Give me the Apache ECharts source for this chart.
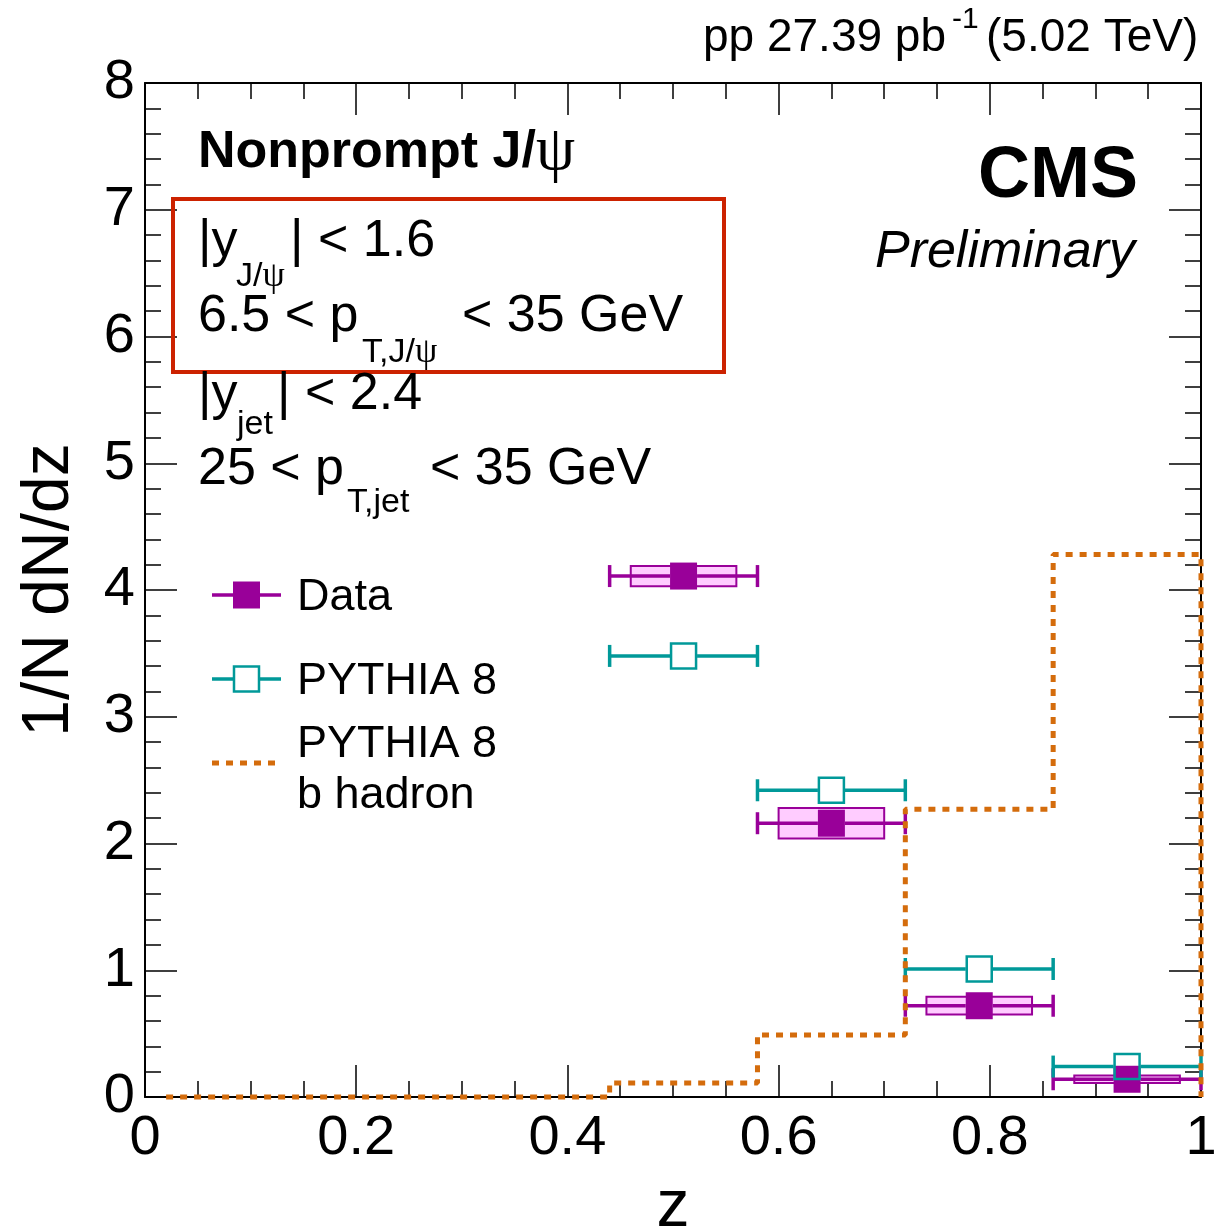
<!DOCTYPE html>
<html>
<head>
<meta charset="utf-8">
<script src="https://cdn.jsdelivr.net/npm/echarts@6/dist/echarts.min.js"></script>
<style>
html,body{margin:0;padding:0;background:#fff;}
#c{width:1214px;height:1229px;}
</style>
</head>
<body>
<div id="c"></div>
<script>
// ---- data ----
const binLow = [0.44, 0.58, 0.72, 0.86];
const binHigh = [0.58, 0.72, 0.86, 1.0];
const binCenter = [0.51, 0.65, 0.79, 0.93];
const dataValues = [4.11, 2.16, 0.72, 0.14];
const dataSyst = [0.08, 0.12, 0.07, 0.03];
const pythiaValues = [3.48, 2.42, 1.01, 0.24];
const bHadronEdges = [0.02, 0.44, 0.58, 0.72, 0.86, 1.0];
const bHadronValues = [0, 0.11, 0.49, 2.27, 4.28];
const sysHalfWidth = 0.05;
const xTickLabels = ['0', '0.2', '0.4', '0.6', '0.8', '1'];
const yTickLabels = ['0', '1', '2', '3', '4', '5', '6', '7', '8'];

// ---- styles ----
const FONT = 'Liberation Sans, Arial, Helvetica, sans-serif';
const SERIF = 'Liberation Serif, DejaVu Serif, serif';
const MAGENTA = '#990099';
const PINK = '#ffccff';
const TEAL = '#009999';
const ORANGE = '#d46c0c';
const RED = '#cc2200';
const MS = 27;

const chart = echarts.init(document.getElementById('c'), null, {renderer: 'canvas'});

const errData = (vals) => vals.map((v, i) => [binCenter[i], v, binLow[i], binHigh[i]]);

function errRender(color) {
  return function (params, api) {
    const c = api.coord([api.value(0), api.value(1)]);
    const l = api.coord([api.value(2), api.value(1)]);
    const h = api.coord([api.value(3), api.value(1)]);
    const half = MS / 2;
    const st = {stroke: color, lineWidth: 3.5};
    return {
      type: 'group',
      children: [
        {type: 'line', shape: {x1: l[0], y1: l[1], x2: c[0] - half, y2: c[1]}, style: st},
        {type: 'line', shape: {x1: c[0] + half, y1: c[1], x2: h[0], y2: h[1]}, style: st},
        {type: 'line', shape: {x1: l[0], y1: l[1] - 11, x2: l[0], y2: l[1] + 11}, style: st},
        {type: 'line', shape: {x1: h[0], y1: h[1] - 11, x2: h[0], y2: h[1] + 11}, style: st}
      ]
    };
  };
}

function boxRender(params, api) {
  const p1 = api.coord([api.value(0) - sysHalfWidth, api.value(1) + api.value(2)]);
  const p2 = api.coord([api.value(0) + sysHalfWidth, api.value(1) - api.value(2)]);
  return {
    type: 'rect',
    shape: {x: p1[0], y: p1[1], width: p2[0] - p1[0], height: p2[1] - p1[1]},
    style: {fill: PINK, stroke: MAGENTA, lineWidth: 2}
  };
}

const bHadronPoints = bHadronValues.map((v, i) => [bHadronEdges[i], v]);
bHadronPoints.push([bHadronEdges[bHadronEdges.length - 1], 0]);

function axisCommon() {
  return {
    axisLine: {show: true, onZero: false, lineStyle: {color: '#000', width: 2}},
    axisTick: {show: true, inside: true, length: 32, lineStyle: {color: '#000', width: 1.5}},
    splitLine: {show: false},
    minorSplitLine: {show: false}
  };
}

const option = {
  animation: false,
  backgroundColor: '#fff',
  grid: {left: 145, top: 83, right: 13, bottom: 132, containLabel: false, outerBoundsMode: 'none'},
  xAxis: [
    Object.assign(axisCommon(), {
      type: 'value', min: 0, max: 1, interval: 0.2, position: 'bottom',
      minorTick: {show: true, splitNumber: 4, length: 16, lineStyle: {color: '#000', width: 1.5}},
      axisLabel: {show: true, fontSize: 56, color: '#000', fontFamily: FONT, margin: 14,
        showMinLabel: true, showMaxLabel: true, hideOverlap: false,
        formatter: (v) => xTickLabels[Math.round(v / 0.2)]},
      name: 'z', nameLocation: 'middle', nameGap: 78,
      nameTextStyle: {fontSize: 66, color: '#000', fontFamily: FONT}
    }),
    Object.assign(axisCommon(), {
      type: 'value', min: 0, max: 1, interval: 0.2, position: 'top',
      minorTick: {show: true, splitNumber: 4, length: 16, lineStyle: {color: '#000', width: 1.5}},
      axisLabel: {show: false}
    })
  ],
  yAxis: [
    Object.assign(axisCommon(), {
      type: 'value', min: 0, max: 8, interval: 1, position: 'left',
      minorTick: {show: true, splitNumber: 5, length: 16, lineStyle: {color: '#000', width: 1.5}},
      axisLabel: {show: true, fontSize: 56, color: '#000', fontFamily: FONT, margin: 10,
        showMinLabel: true, showMaxLabel: true, hideOverlap: false,
        formatter: (v) => yTickLabels[Math.round(v)]},
      name: '1/N dN/dz', nameLocation: 'middle', nameGap: 62,
      nameTextStyle: {fontSize: 66, color: '#000', fontFamily: FONT}
    }),
    Object.assign(axisCommon(), {
      type: 'value', min: 0, max: 8, interval: 1, position: 'right',
      minorTick: {show: true, splitNumber: 5, length: 16, lineStyle: {color: '#000', width: 1.5}},
      axisLabel: {show: false}
    })
  ],
  series: [
    {type: 'custom', name: 'Data syst', renderItem: boxRender, clip: false, z: 2,
      data: dataValues.map((v, i) => [binCenter[i], v, dataSyst[i]]), silent: true},
    {type: 'custom', name: 'Data err', renderItem: errRender(MAGENTA), clip: false, z: 3,
      data: errData(dataValues), silent: true},
    {type: 'scatter', name: 'Data', symbol: 'rect', symbolSize: MS, z: 4,
      itemStyle: {color: MAGENTA, borderColor: MAGENTA, borderWidth: 0, opacity: 1},
      data: dataValues.map((v, i) => [binCenter[i], v]), silent: true},
    {type: 'custom', name: 'PYTHIA err', renderItem: errRender(TEAL), clip: false, z: 5,
      data: errData(pythiaValues), silent: true},
    {type: 'scatter', name: 'PYTHIA 8', symbol: 'rect', symbolSize: MS - 2, z: 6,
      itemStyle: {color: 'rgba(0,0,0,0)', borderColor: TEAL, borderWidth: 2.5, opacity: 1},
      data: pythiaValues.map((v, i) => [binCenter[i], v]), silent: true},
    {type: 'line', name: 'PYTHIA 8 b hadron', step: 'end', symbol: 'none', clip: false, z: 7,
      lineStyle: {color: ORANGE, width: 5, type: [7, 7]},
      data: bHadronPoints, silent: true}
  ],
  graphic: []
};

function txt(x, y, text, size, extra) {
  return {
    type: 'text', x: x, y: y, silent: true, z: 100,
    style: Object.assign({text: text, fontSize: size, fontFamily: FONT, fill: '#000',
      align: 'left', verticalAlign: 'middle'}, extra || {})
  };
}
function psiText(x, y, pre, size, weight, psiScale) {
  return {
    type: 'text', x: x, y: y, silent: true, z: 100,
    style: {
      text: '{a|' + pre + '}{b|ψ}', align: 'left', verticalAlign: 'middle', fill: '#000',
      rich: {
        a: {fontSize: size, fontFamily: FONT, fontWeight: weight || 'normal', fill: '#000'},
        b: {fontSize: size * (psiScale || 1.05), fontFamily: SERIF, fontWeight: 'normal', fill: '#000'}
      }
    }
  };
}

const G = option.graphic;
// top-right luminosity label
G.push(txt(703, 38, 'pp 27.39 pb', 46));
G.push(txt(952, 20, '-1', 30));
G.push(txt(986, 38, '(5.02 TeV)', 46));
// Nonprompt J/psi
G.push(psiText(198, 153, 'Nonprompt J/', 52, 'bold', 1.2));
// CMS Preliminary
G.push(txt(1138, 177, 'CMS', 72, {align: 'right', fontWeight: 'bold'}));
G.push(txt(1135, 253, 'Preliminary', 52, {align: 'right', fontStyle: 'italic'}));
// red box
G.push({type: 'rect', z: 90, silent: true, shape: {x: 173, y: 199, width: 551, height: 173},
  style: {fill: 'none', stroke: RED, lineWidth: 4}});
// kinematic cuts
G.push(txt(198, 242, '|y', 52));
G.push(psiText(236, 277, 'J/', 34));
G.push(txt(290, 242, '| < 1.6', 52));
G.push(txt(198, 317, '6.5 < p', 52));
G.push(psiText(362, 353, 'T,J/', 34));
G.push(txt(462, 317, '< 35 GeV', 52));
G.push(txt(198, 395, '|y', 52));
G.push(txt(237, 425, 'jet', 34));
G.push(txt(277, 395, '| < 2.4', 52));
G.push(txt(198, 470, '25 < p', 52));
G.push(txt(347, 503, 'T,jet', 34));
G.push(txt(430, 470, '< 35 GeV', 52));
// legend
G.push({type: 'line', z: 100, silent: true, shape: {x1: 212, y1: 595, x2: 281, y2: 595},
  style: {stroke: MAGENTA, lineWidth: 3.5}});
G.push({type: 'rect', z: 101, silent: true, shape: {x: 233, y: 581.5, width: 27, height: 27},
  style: {fill: MAGENTA}});
G.push(txt(297, 598, 'Data', 45));
G.push({type: 'line', z: 100, silent: true, shape: {x1: 212, y1: 679, x2: 233, y2: 679},
  style: {stroke: TEAL, lineWidth: 3.5}});
G.push({type: 'line', z: 100, silent: true, shape: {x1: 260, y1: 679, x2: 281, y2: 679},
  style: {stroke: TEAL, lineWidth: 3.5}});
G.push({type: 'rect', z: 101, silent: true, shape: {x: 234, y: 666.5, width: 25, height: 25},
  style: {fill: 'none', stroke: TEAL, lineWidth: 2.5}});
G.push(txt(297, 682, 'PYTHIA 8', 45));
G.push({type: 'line', z: 100, silent: true, shape: {x1: 212, y1: 763, x2: 277, y2: 763},
  style: {stroke: ORANGE, lineWidth: 5, lineDash: [7, 7]}});
G.push(txt(297, 745, 'PYTHIA 8', 45));
G.push(txt(297, 796, 'b hadron', 45));

chart.setOption(option);
</script>
</body>
</html>
